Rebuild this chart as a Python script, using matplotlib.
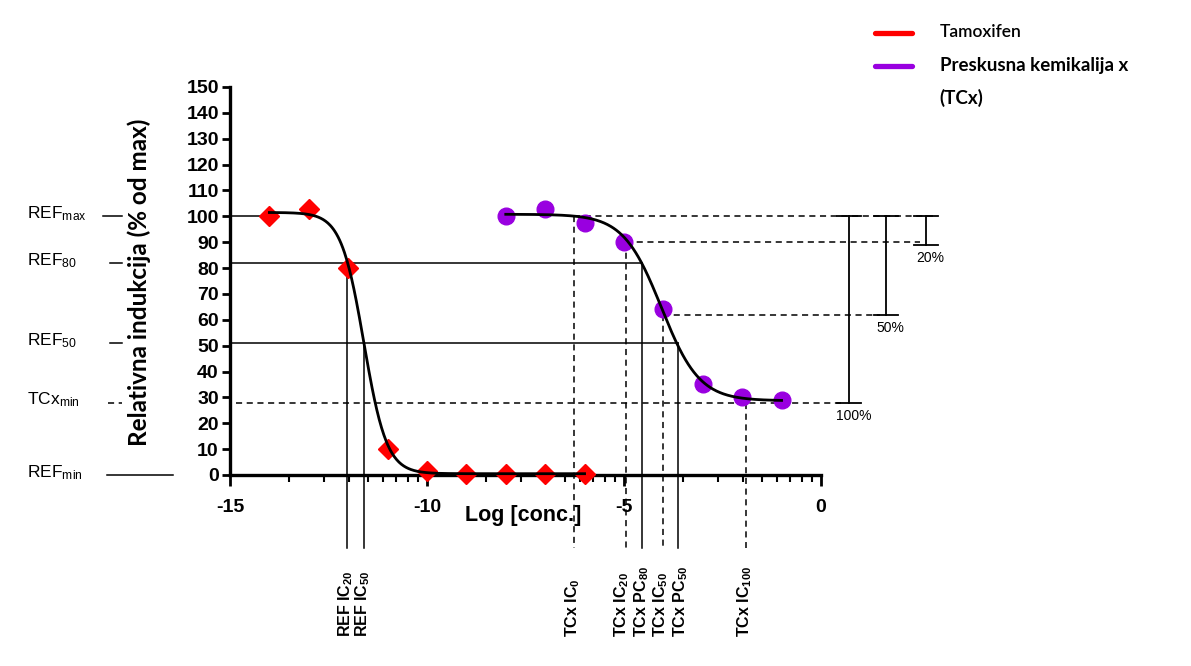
import numpy as np
import matplotlib
matplotlib.use("Agg")
import matplotlib.pyplot as plt
from matplotlib.lines import Line2D

plt.rcParams.update({
    "font.family": ["Liberation Sans", "DejaVu Sans"],
    "mathtext.fontset": "custom",
    "mathtext.rm": "Liberation Sans",
    "mathtext.bf": "Liberation Sans:bold",
    "mathtext.it": "Liberation Sans:italic",
    "axes.unicode_minus": False,
})

RED = "#FF0000"
PURPLE = "#9900E0"

# ----------------------------------------------------------------------
# data
# ----------------------------------------------------------------------
tam_logc = [-14, -13, -12, -11, -10, -9, -8, -7, -6]
tam_resp = [100, 103, 80, 10, 1.5, 0.5, 0.5, 0.5, 0.5]
tcx_logc = [-8, -7, -6, -5, -4, -3, -2, -1]
tcx_resp = [100, 103, 97.5, 90, 64, 35, 30, 29]

# four-parameter logistic fits: top, bottom, logIC50, hill slope
tam_fit = [101.5, 0.5, -11.60, 1.5]
tcx_fit = [100.8, 28.7, -4.05, 0.9]

# reference levels on the left
level_names = [r"REF$_{\mathrm{max}}$", r"REF$_{\mathrm{80}}$", r"REF$_{\mathrm{50}}$",
               r"TCx$_{\mathrm{min}}$", r"REF$_{\mathrm{min}}$"]
level_values = [100, 82, 51, 28, 0]

# concentration markers below the x axis
marker_names = [r"REF IC$_{\mathbf{20}}$", r"REF IC$_{\mathbf{50}}$",
                r"TCx IC$_{\mathbf{0}}$", r"TCx IC$_{\mathbf{20}}$",
                r"TCx PC$_{\mathbf{80}}$", r"TCx IC$_{\mathbf{50}}$",
                r"TCx PC$_{\mathbf{50}}$", r"TCx IC$_{\mathbf{100}}$"]
marker_logc = [-12.02, -11.60, -6.26, -4.95, -4.53, -4.02, -3.63, -1.90]
marker_resp = [82, 51, 100, 90, 82, 62, 51, 28]
marker_dashed = [False, False, True, True, False, True, False, True]

# inhibition brackets on the right
bracket_names = ["100%", "50%", "20%"]
bracket_low = [28, 62, 89]
bracket_top = 100


def four_pl(x, top, bottom, logic50, hill):
    return bottom + (top - bottom) / (1 + 10 ** ((x - logic50) * hill))


fig = plt.figure(figsize=(11.91, 6.66), dpi=100)
ax = fig.add_axes([0.1931, 0.2868, 0.4962, 0.5826])
ax.set_xlim(-15, 0)
ax.set_ylim(0, 150)

for s in ("top", "right"):
    ax.spines[s].set_visible(False)
for s in ("left", "bottom"):
    ax.spines[s].set_linewidth(2.4)

ax.set_xticks([-15, -10, -5, 0])
minor = [m + 5 * np.log10(k) for m in (-15, -10, -5) for k in range(2, 10)]
ax.set_xticks(minor, minor=True)
ax.set_yticks(np.arange(0, 151, 10))
ax.tick_params(axis="x", which="major", length=8, width=2, pad=9, labelsize=14)
ax.tick_params(axis="x", which="minor", length=5, width=1.5)
ax.tick_params(axis="y", which="major", length=6, width=2, pad=2, labelsize=14)
for lab in ax.get_xticklabels() + ax.get_yticklabels():
    lab.set_fontweight("bold")

ax.set_xlabel("Log [conc.]", fontsize=15.5, fontweight="bold")
ax.xaxis.set_label_coords(0.496, -0.078)
ax.set_ylabel("Relativna indukcija (% od max)", fontsize=17.5, fontweight="bold",
              family=["Lato", "DejaVu Sans"])
ax.yaxis.set_label_coords(-0.133, 0.497)

# ----- data and fitted curves
ax.plot(tam_logc, tam_resp, ls="none", marker="D", ms=10.5, color=RED,
        mec=RED, zorder=3, clip_on=False)
ax.plot(tcx_logc, tcx_resp, ls="none", marker="o", ms=12, color=PURPLE,
        mec=PURPLE, zorder=3, clip_on=False)

xs = np.linspace(tam_logc[0], tam_logc[-1], 400)
ax.plot(xs, four_pl(xs, *tam_fit), color="black", lw=2, zorder=4, clip_on=False)
xs = np.linspace(tcx_logc[0], tcx_logc[-1], 400)
ax.plot(xs, four_pl(xs, *tcx_fit), color="black", lw=2, zorder=4, clip_on=False)

DASH = (0, (4, 3))
LW = 1.1

# ----- horizontal reference lines
ax.plot([-15, -14], [100, 100], color="black", lw=LW, clip_on=False)
ax.plot([-15, -4.53], [82, 82], color="black", lw=LW, clip_on=False)
ax.plot([-15, -3.63], [51, 51], color="black", lw=LW, clip_on=False)
ax.plot([-14.85, 0.61], [28, 28], color="black", lw=LW, ls=DASH, clip_on=False)
ax.plot([-6.26, 2.94], [100, 100], color="black", lw=LW, ls=DASH, clip_on=False)
ax.plot([-4.95, 2.51], [90, 90], color="black", lw=LW, ls=DASH, clip_on=False)
ax.plot([-4.02, 1.50], [62, 62], color="black", lw=LW, ls=DASH, clip_on=False)

# ----- left level labels with small lead lines
lead = [(-18.22, -17.74, "-"), (-18.05, -17.74, "-"), (-18.05, -17.74, "-"),
        (-18.10, -17.74, "--"), (-18.12, -16.45, "-")]
for name, val, (x0, x1, st) in zip(level_names, level_values, lead):
    ax.plot([x0, x1], [val, val], color="black", lw=LW,
            ls=DASH if st == "--" else "-", clip_on=False)
    ax.text(-20.15, val + 1, name, fontsize=12.5, ha="left", va="center",
            clip_on=False)

# ----- vertical drop lines and rotated labels
nudge = [-0.04, -0.04, -0.04, -0.10, -0.02, -0.04, 0.06, -0.04]
for name, xc, yv, dashed, dx in zip(marker_names, marker_logc, marker_resp,
                                    marker_dashed, nudge):
    ax.plot([xc, xc], [yv, -28.2], color="black", lw=LW,
            ls=DASH if dashed else "-", clip_on=False)
    ax.text(xc + dx, -62.6, name, rotation=90, fontsize=11.5, fontweight="bold",
            ha="center", va="bottom", clip_on=False)

# ----- brackets on the right
bx = [0.71, 1.65, 2.66]
for name, low, xb in zip(bracket_names, bracket_low, bx):
    ax.plot([xb, xb], [bracket_top, low], color="black", lw=1.3, clip_on=False)
    for yy in (bracket_top, low):
        ax.plot([xb - 0.3, xb + 0.3], [yy, yy], color="black", lw=1.3,
                clip_on=False)
    ax.text(xb + 0.12, low - 2.5, name, fontsize=10, ha="center", va="top",
            clip_on=False)

# ----- legend drawn manually (line handles, text to the right)
fig.add_artist(Line2D([0.7347, 0.7657], [0.9505, 0.9505], color=RED, lw=3.8,
                      solid_capstyle="round"))
fig.add_artist(Line2D([0.7347, 0.7657], [0.9009, 0.9009], color=PURPLE, lw=3.8,
                      solid_capstyle="round"))
fig.text(0.789, 0.952, "Tamoxifen", fontsize=12.5, fontweight="semibold",
         family=["Lato", "DejaVu Sans"], ha="left", va="center")
fig.text(0.789, 0.902, "Preskusna kemikalija x", fontsize=13.5, fontweight="bold",
         family=["Lato", "DejaVu Sans"], ha="left", va="center")
fig.text(0.789, 0.853, "(TCx)", fontsize=13.5, fontweight="bold",
         family=["Lato", "DejaVu Sans"], ha="left", va="center")

fig.savefig("out.png", dpi=100)
